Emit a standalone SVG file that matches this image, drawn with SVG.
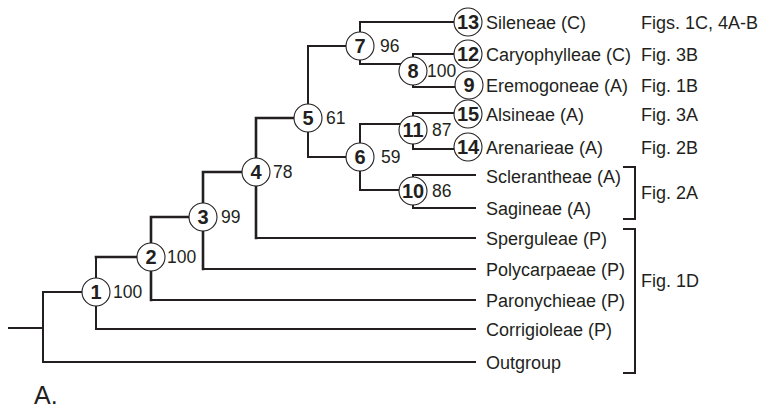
<svg xmlns="http://www.w3.org/2000/svg" width="758" height="409" viewBox="0 0 758 409">
<style>
.e{stroke:#231f20;stroke-width:2;fill:none;stroke-linecap:square}
.t{stroke-width:2.6}
.c{fill:#fff;stroke:#231f20;stroke-width:1.1}
.n{font-family:"Liberation Sans",Arial,sans-serif;font-weight:bold;font-size:20px;fill:#231f20;text-anchor:middle}
.b{font-family:"Liberation Sans",Arial,sans-serif;font-size:17.5px;fill:#231f20}
.l{font-family:"Liberation Sans",Arial,sans-serif;font-size:18px;fill:#231f20}
</style>
<rect width="758" height="409" fill="#fff"/>
<g id="connectors">
<path class="e" d="M9,328H43M43,292V362M43,292H96M43,362H475"/>
<path class="e" d="M96,257V329M96,329H475M151,300H475M203,269H475M256,238H475"/>
<path class="e t" d="M96,257H151M151,217V300M151,217H203M203,172V269M203,172H256M256,118V238M256,118H308"/>
<path class="e" d="M308,46V157M308,46H360M308,157H360"/>
<path class="e" d="M360,22V64M360,22H468M360,64H413"/>
<path class="e" d="M413,54V87M413,54H468M413,87H469"/>
<path class="e" d="M360,124V190M360,124H413M360,190H413"/>
<path class="e" d="M413,113V149M413,113H468M413,149H468"/>
<path class="e" d="M413,175V208M413,175H475M413,208H475"/>
<path class="e" d="M624,167H635V219H624M624,229H635V373H624"/>
</g>
<g id="node1"><circle class="c" cx="96" cy="292" r="14"/><text class="n" x="96" y="299.2">1</text><text class="b" x="113" y="298.3">100</text></g>
<g id="node2"><circle class="c" cx="151" cy="257" r="14"/><text class="n" x="151" y="264.2">2</text><text class="b" x="167" y="263.3">100</text></g>
<g id="node3"><circle class="c" cx="203" cy="217" r="14"/><text class="n" x="203" y="224.2">3</text><text class="b" x="221" y="223.3">99</text></g>
<g id="node4"><circle class="c" cx="256" cy="172" r="14"/><text class="n" x="256" y="179.2">4</text><text class="b" x="273" y="178.3">78</text></g>
<g id="node5"><circle class="c" cx="308" cy="118" r="14"/><text class="n" x="308" y="125.2">5</text><text class="b" x="326" y="124.3">61</text></g>
<g id="node6"><circle class="c" cx="360" cy="157" r="14"/><text class="n" x="360" y="164.2">6</text><text class="b" x="381" y="163.3">59</text></g>
<g id="node7"><circle class="c" cx="360" cy="46" r="14"/><text class="n" x="360" y="53.2">7</text><text class="b" x="380" y="52.3">96</text></g>
<g id="node8"><circle class="c" cx="413" cy="71" r="14"/><text class="n" x="413" y="78.2">8</text><text class="b" x="427" y="77.3">100</text></g>
<g id="node11"><circle class="c" cx="413" cy="130" r="14"/><text class="n" x="413" y="137.2">11</text><text class="b" x="432" y="136.3">87</text></g>
<g id="node10"><circle class="c" cx="413" cy="191" r="14"/><text class="n" x="413" y="198.2">10</text><text class="b" x="432" y="197.3">86</text></g>
<g id="node13"><circle class="c" cx="468" cy="22" r="14"/><text class="n" x="468" y="29.2">13</text><text class="l" x="486" y="28.5">Sileneae (C)</text><text class="l" x="641" y="28.5">Figs. 1C, 4A-B</text></g>
<g id="node12"><circle class="c" cx="468" cy="54" r="14"/><text class="n" x="468" y="61.2">12</text><text class="l" x="486" y="60.5">Caryophylleae (C)</text><text class="l" x="641" y="60.5">Fig. 3B</text></g>
<g id="node9"><circle class="c" cx="469" cy="85" r="14"/><text class="n" x="469" y="92.2">9</text><text class="l" x="486" y="91.5">Eremogoneae (A)</text><text class="l" x="641" y="91.5">Fig. 1B</text></g>
<g id="node15"><circle class="c" cx="468" cy="114" r="14"/><text class="n" x="468" y="121.2">15</text><text class="l" x="486" y="120.5">Alsineae (A)</text><text class="l" x="641" y="120.5">Fig. 3A</text></g>
<g id="node14"><circle class="c" cx="468" cy="147" r="14"/><text class="n" x="468" y="154.2">14</text><text class="l" x="486" y="153.5">Arenarieae (A)</text><text class="l" x="641" y="153.5">Fig. 2B</text></g>
<g id="taxa">
<text class="l" x="486" y="182.5">Sclerantheae (A)</text>
<text class="l" x="486" y="215">Sagineae (A)</text>
<text class="l" x="486" y="244.5">Sperguleae (P)</text>
<text class="l" x="486" y="275.5">Polycarpaeae (P)</text>
<text class="l" x="486" y="306.5">Paronychieae (P)</text>
<text class="l" x="486" y="336">Corrigioleae (P)</text>
<text class="l" x="486" y="368.5">Outgroup</text>
<text class="l" x="641" y="198.5">Fig. 2A</text>
<text class="l" x="641" y="286.5">Fig. 1D</text>
</g>
<text id="panel" x="34" y="404" font-family="'Liberation Sans',Arial,sans-serif" font-size="25" fill="#231f20">A.</text>
</svg>
